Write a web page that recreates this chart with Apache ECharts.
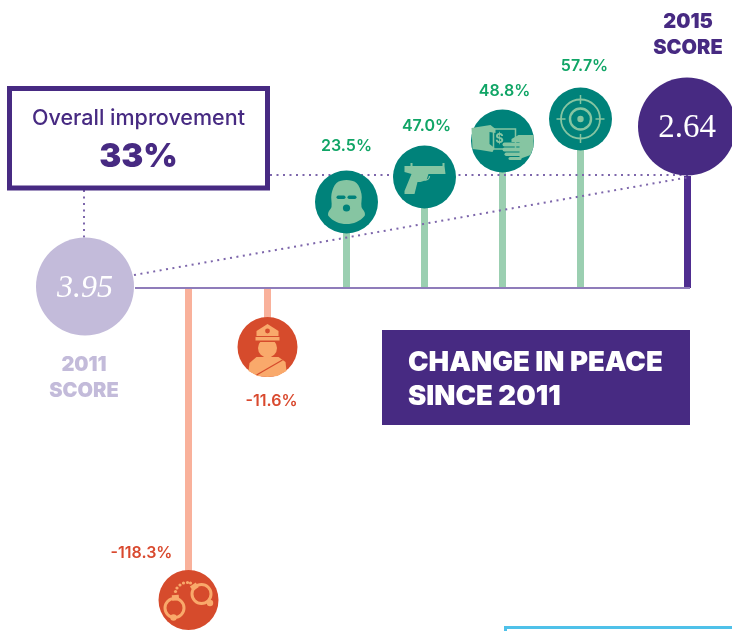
<!DOCTYPE html>
<html><head><meta charset="utf-8">
<style>html,body{margin:0;padding:0;background:#fff}#c{width:732px;height:631px}</style>
<script src="https://cdn.jsdelivr.net/npm/echarts@6/dist/echarts.min.js"></script>
</head><body><div id="c"></div>
<script>
// Data
const icons = ['handcuffs', 'officer', 'mask', 'gun', 'money', 'target'];
const changePct = [-118.3, -11.6, 23.5, 47.0, 48.8, 57.7];
const slotX = [188.5, 267.5, 346.5, 424.5, 502.5, 580.5];
const stemReach = [-312, -59, 86, 111, 147, 169];
const scoreLabels = ['2011', '2015'];
const scoreValues = [3.95, 2.64];
const scoreX = [85, 687];
const scoreReach = [1.5, 161.5];
const scoreStemX = [687.5];
const scoreStemReach = [112];

const PURPLE = '#472a82', PALE = '#c3bbda', DOT = '#7d66ab', BASE = '#8f7cba';
const TEAL = '#00827a', TEAL_ICON = '#86c5a2', TEAL_STEM = '#9bcfb1', GREEN = '#10a566';
const RED = '#d64b2c', RED_ICON = '#f9a96b', RED_STEM = '#f9b19b', RED_TEXT = '#d9492e';
const SANS = 'Inter, "Noto Sans", sans-serif', SERIF = '"Liberation Serif", serif';
const labelOffset = [[-47, -46.5], [4, 54.5], [0, -56], [2, -51], [2, -50], [4, -53]];

const poly = (points, fill, smooth) => ({ type: 'polygon', shape: { points, smooth: smooth || 0 }, style: { fill } });
const circ = (cx, cy, r, fill) => ({ type: 'circle', shape: { cx, cy, r }, style: { fill } });
const ring = (cx, cy, r, stroke, lineWidth) => ({ type: 'circle', shape: { cx, cy, r }, style: { fill: 'none', stroke, lineWidth } });
const box = (x, y, width, height, fill, r) => ({ type: 'rect', shape: { x, y, width, height, r: r || 0 }, style: { fill } });
const seg = (x1, y1, x2, y2, stroke, lineWidth) => ({ type: 'line', shape: { x1, y1, x2, y2 }, style: { stroke, lineWidth } });

const drawIcon = {
  mask: (c, d) => [
    poly([[0, -22], [10, -19], [15, -8], [15, 5], [18, 10], [18, 14], [10, 20], [0, 22], [-10, 20], [-18, 14], [-18, 10], [-15, 5], [-15, -8], [-10, -19]], c, 0.35),
    box(-10, -6.5, 9, 3.5, d, 1.7), box(1, -6.5, 9, 3.5, d, 1.7), circ(0, 6, 3.6, d)
  ],
  gun: (c, d) => [
    poly([[-20, -11], [-14, -11], [-14, -14], [-12, -14], [-12, -11], [18, -11], [18, -14], [20, -14], [20, -11], [21, -3], [4, -3], [2, 3], [-4, 5], [-7, 5], [-10, 17], [-20, 17], [-20, 14], [-13, -3], [-20, -5]], c),
    { type: 'arc', shape: { cx: 1, cy: -1, r: 4, startAngle: 0, endAngle: Math.PI }, style: { fill: 'none', stroke: c, lineWidth: 1.3 } }
  ],
  money: (c, d) => [
    { type: 'rect', shape: { x: -9, y: -12, width: 22, height: 20 }, style: { fill: 'none', stroke: c, lineWidth: 1.5 } },
    { type: 'text', style: { x: -3, y: -2, text: '$', fill: c, font: '700 13px ' + SANS, align: 'center', verticalAlign: 'middle' } },
    poly([[-31, -13], [-12, -16], [-7, -12], [-7, -8], [-13, -9], [-13, 3], [-8, 7], [-10, 11], [-22, 9], [-30, 8]], c),
    poly([[31, -6], [16, -6], [9, -2], [9, 1], [17, 1], [17, 18], [28, 14], [31, 6]], c),
    box(0, 1.5, 19, 4, c, 2), box(0, 6.5, 19, 4, c, 2), box(2, 11.5, 17, 3.5, c, 1.7), box(6, 16, 13, 3, c, 1.5)
  ],
  target: (c, d) => [
    ring(0, 0, 19.5, c, 1.8), ring(0, 0, 10.5, c, 2.4), circ(0, 0, 3.2, c),
    seg(-24, 0, -15, 0, c, 1.5), seg(15, 0, 24, 0, c, 1.5), seg(0, -24, 0, -15, c, 1.5), seg(0, 15, 0, 24, c, 1.5)
  ],
  officer: (c, d) => [
    poly([[-19, 24], [-18, 16], [-11, 10], [11, 10], [18, 15], [19, 24], [10, 29], [0, 30], [-10, 29]], c),
    circ(0, 1, 9.5, c), box(-13, -10, 26, 5, d),
    poly([[0, -23], [11, -16], [11, -11], [-11, -11], [-11, -16]], c), box(-12, -10, 24, 3.5, c), circ(0, -16, 2.4, d),
    seg(-11, 28, 15, 13, d, 1.3)
  ],
  handcuffs: (c, d) => [
    ring(-14, 8, 9.5, c, 3), ring(13, -6, 9.5, c, 3),
    { type: 'rect', rotation: 0.1, originX: -13, originY: -2, shape: { x: -16.5, y: -5, width: 7, height: 5.5 }, style: { fill: c } },
    { type: 'rect', rotation: 0.6, originX: 6, originY: -13, shape: { x: 2.5, y: -16, width: 7, height: 5.5 }, style: { fill: c } },
    circ(-15, 17.5, 3.2, c), circ(21.5, 3, 3.2, c),
    circ(-13, -8.5, 1.6, c), circ(-11.5, -12, 1.6, c), circ(-8.5, -15, 1.6, c), circ(-5, -17, 1.6, c), circ(-1, -17.5, 1.6, c), circ(2, -17, 1.6, c)
  ]
};

const stemRect = (x, top, api, w, fill) => {
  const a = api.coord([x, top]), b = api.coord([x, 0]);
  const y0 = Math.min(a[1], b[1]);
  return { type: 'rect', shape: { x: a[0] - w / 2, y: y0, width: w, height: Math.abs(a[1] - b[1]) }, style: { fill } };
};
const rows = slotX.map((x, i) => [x, stemReach[i], changePct[i], i]);

const option = {
  animation: false,
  grid: { left: 0, right: 0, top: 0, bottom: 0 },
  xAxis: { type: 'value', min: 0, max: 732, show: false },
  yAxis: { type: 'value', min: -343, max: 288, show: false },
  series: [
    { type: 'custom', z: 2, silent: true, data: rows, encode: { x: 0, y: 1 },
      renderItem: (p, api) => stemRect(api.value(0), api.value(1), api, 7, api.value(2) < 0 ? RED_STEM : TEAL_STEM) },
    { type: 'custom', z: 2, silent: true, data: scoreStemX.map((x, i) => [x, scoreStemReach[i]]), encode: { x: 0, y: 1 },
      renderItem: (p, api) => stemRect(api.value(0), api.value(1), api, 7, '#4f2d90') },
    { type: 'line', z: 3, silent: true, symbol: 'none', data: [[135, 0], [690, 0]], lineStyle: { color: BASE, width: 2 } },
    { type: 'line', z: 4, silent: true, symbol: 'none', data: [[134, 13], [690, 111]], lineStyle: { color: DOT, width: 2, type: [2, 4.5] } },
    { type: 'line', z: 4, silent: true, symbol: 'none', data: [[270, 113], [690, 113]], lineStyle: { color: DOT, width: 2, type: [2, 4.5] } },
    { type: 'line', z: 4, silent: true, symbol: 'none', data: [[84, 98], [84, 50]], lineStyle: { color: DOT, width: 2, type: [2, 4.5] } },
    { type: 'scatter', z: 6, silent: true, symbolSize: 98,
      data: scoreX.map((x, i) => ({
        value: [x, scoreReach[i]],
        itemStyle: { color: i ? PURPLE : PALE, opacity: 1 },
        label: { show: true, position: 'inside', offset: [0, 2], formatter: scoreValues[i].toFixed(2), color: '#fff', fontFamily: SERIF, fontSize: i ? 33 : 32, fontStyle: i ? 'normal' : 'italic' }
      })) },
    { type: 'custom', z: 6, silent: true, data: rows, encode: { x: 0, y: 1 },
      renderItem: (p, api) => {
        const i = api.value(3), neg = api.value(2) < 0;
        const pt = api.coord([api.value(0), api.value(1)]);
        const iconColor = neg ? RED_ICON : TEAL_ICON, disc = neg ? RED : TEAL, r = neg ? 30 : 31.5;
        const off = labelOffset[i];
        return { type: 'group', x: pt[0], y: pt[1], children: [
          circ(0, 0, r, disc),
          ...drawIcon[icons[i]](iconColor, disc),
          { type: 'text', style: { x: off[0], y: off[1], text: api.value(2).toFixed(1) + '%', fill: neg ? RED_TEXT : GREEN, font: '600 16px ' + SANS, align: 'center', verticalAlign: 'middle' } }
        ] };
      } }
  ],
  graphic: [
    { type: 'rect', z: 8, shape: { x: 9.5, y: 88.5, width: 258, height: 99.5 }, style: { fill: '#fff', stroke: PURPLE, lineWidth: 5 } },
    { type: 'text', z: 9, style: { x: 138.5, y: 119, text: 'Overall improvement', fill: PURPLE, font: '500 21.5px ' + SANS, align: 'center', verticalAlign: 'middle' } },
    { type: 'text', z: 9, style: { x: 138.5, y: 157, text: '33%', fill: PURPLE, font: '900 33px ' + SANS, align: 'center', verticalAlign: 'middle' } },
    { type: 'rect', z: 8, shape: { x: 382, y: 330, width: 308, height: 95 }, style: { fill: PURPLE } },
    { type: 'text', z: 9, style: { x: 408, y: 363, text: 'CHANGE IN PEACE', fill: '#fff', font: '900 27.5px ' + SANS, verticalAlign: 'middle' } },
    { type: 'text', z: 9, style: { x: 408, y: 397, text: 'SINCE 2011', fill: '#fff', font: '900 27.5px ' + SANS, verticalAlign: 'middle' } },
    { type: 'text', z: 9, style: { x: 84, y: 365, text: scoreLabels[0], fill: PALE, font: '900 20px ' + SANS, align: 'center', verticalAlign: 'middle' } },
    { type: 'text', z: 9, style: { x: 84, y: 391, text: 'SCORE', fill: PALE, font: '900 20px ' + SANS, align: 'center', verticalAlign: 'middle' } },
    { type: 'text', z: 9, style: { x: 688, y: 22, text: scoreLabels[1], fill: PURPLE, font: '900 20px ' + SANS, align: 'center', verticalAlign: 'middle' } },
    { type: 'text', z: 9, style: { x: 688, y: 48, text: 'SCORE', fill: PURPLE, font: '900 20px ' + SANS, align: 'center', verticalAlign: 'middle' } },
    { type: 'rect', z: 8, shape: { x: 505.5, y: 627.5, width: 240, height: 30 }, style: { fill: 'none', stroke: '#4fc1e9', lineWidth: 3 } }
  ]
};
echarts.init(document.getElementById('c'), null, { renderer: 'canvas' }).setOption(option);
</script></body></html>
